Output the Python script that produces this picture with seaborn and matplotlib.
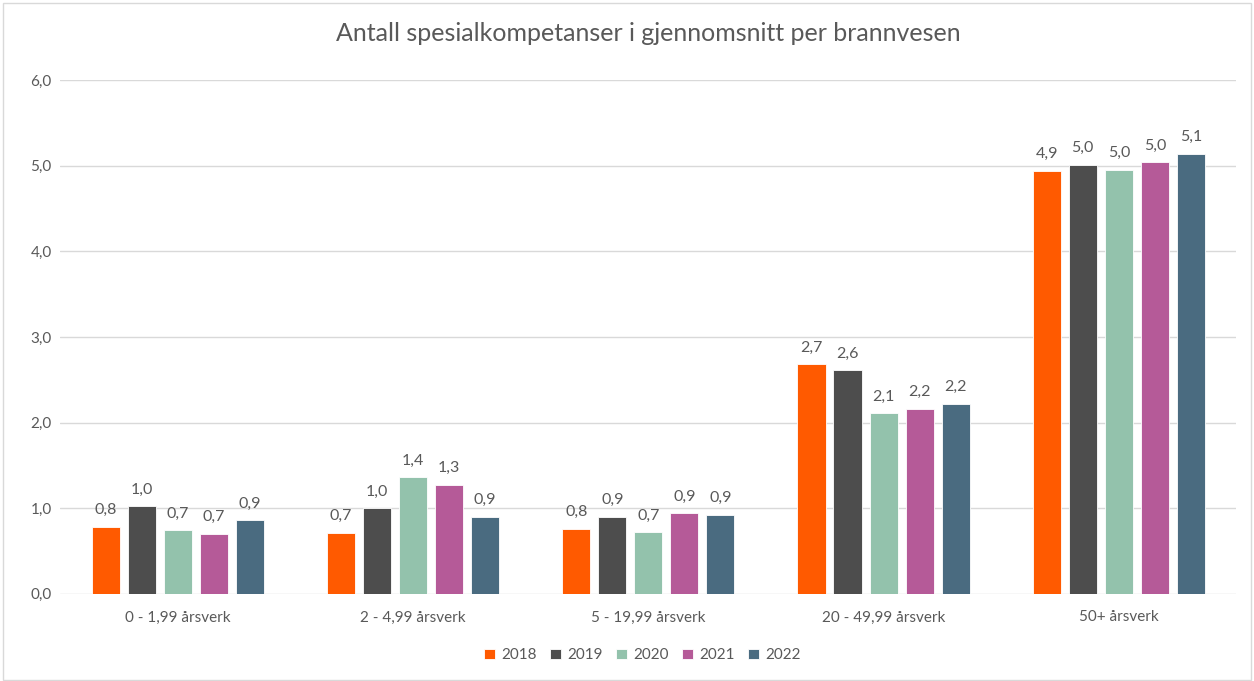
# Antall spesialkompetanser i gjennomsnitt per brannvesen

import numpy as np
import pandas as pd
import seaborn as sns
import matplotlib
matplotlib.use('Agg')
import matplotlib.pyplot as plt
from matplotlib.patches import Rectangle

# Data
categories = ['0 - 1,99 årsverk', '2 - 4,99 årsverk', '5 - 19,99 årsverk',
              '20 - 49,99 årsverk', '50+ årsverk']
years = ['2018', '2019', '2020', '2021', '2022']
v2018 = [0.78, 0.71, 0.76, 2.68, 4.94]
v2019 = [1.02, 1.00, 0.90, 2.61, 5.01]
v2020 = [0.74, 1.36, 0.72, 2.11, 4.95]
v2021 = [0.70, 1.27, 0.94, 2.16, 5.04]
v2022 = [0.86, 0.90, 0.92, 2.22, 5.14]
colors = ['#FF5A00', '#4D4D4D', '#93C2AC', '#B55A98', '#4A6B80']

# Long format for seaborn
rows = []
for year, vals in zip(years, [v2018, v2019, v2020, v2021, v2022]):
    for cat, v in zip(categories, vals):
        rows.append({'Kategori': cat, 'År': year, 'Verdi': v})
df = pd.DataFrame(rows)

sns.set_style('white')
plt.rcParams['font.family'] = ['Lato', 'DejaVu Sans']
text_col = '#595959'

fig = plt.figure(figsize=(12.54, 6.81), dpi=100)
ax = fig.add_axes([0.048, 0.128, 0.938, 0.7545])

sns.barplot(data=df, x='Kategori', y='Verdi', hue='År', order=categories,
            hue_order=years, palette=colors, saturation=1, width=0.766,
            gap=0.22, edgecolor='white', linewidth=0.6, errorbar=None,
            ax=ax, zorder=3)

# Data labels with comma decimals
for cont in ax.containers:
    labels = [f'{b.get_height():.1f}'.replace('.', ',') for b in cont]
    ax.bar_label(cont, labels=labels, padding=7, fontsize=11.5, color=text_col)

ax.set_ylim(0, 6)
ax.set_xlim(-0.5, 4.5)
ax.set_yticks(np.arange(0, 7, 1))
ax.set_yticklabels([f'{t:.1f}'.replace('.', ',') for t in np.arange(0, 7, 1)])
ax.yaxis.grid(True, color='#D9D9D9', linewidth=1, zorder=0)
ax.set_axisbelow(True)
for s in ax.spines.values():
    s.set_visible(False)
ax.tick_params(axis='both', length=0, labelsize=11, labelcolor=text_col)
ax.tick_params(axis='x', pad=12)
ax.tick_params(axis='y', pad=6)
ax.set_xlabel('')
ax.set_ylabel('')

ax.set_title('Antall spesialkompetanser i gjennomsnitt per brannvesen',
             fontsize=18, color=text_col, pad=28)

handles, lbls = ax.get_legend_handles_labels()
ax.legend(handles, lbls, loc='lower center', bbox_to_anchor=(0.495, -0.16),
          ncol=5, frameon=False, fontsize=11, labelcolor=text_col,
          handlelength=0.7, handleheight=0.7, handletextpad=0.4,
          columnspacing=0.9)

# light chart border
fig.patches.append(Rectangle((0.002, 0.002), 0.996, 0.994,
                             transform=fig.transFigure, fill=False,
                             edgecolor='#D9D9D9', linewidth=1))

fig.savefig('out.png', dpi=100)
